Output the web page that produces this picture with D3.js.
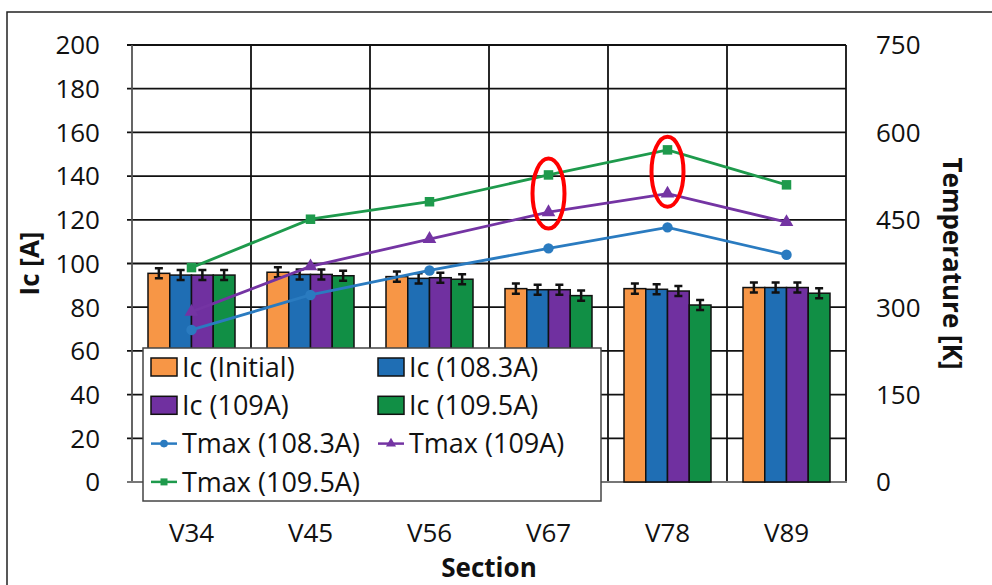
<!DOCTYPE html>
<head>
  <meta charset="utf-8">
  <script src="https://d3js.org/d3.v7.min.js"></script>
  <style>
    body { margin:0; background:#fff; }
    text { font-family: "Open Sans", Lato, sans-serif; fill:#111; }
  </style>
</head>

<body>
  <script>
    var width = 992;
    var height = 585;

    // data
    var sections = ["V34", "V45", "V56", "V67", "V78", "V89"];
    var icInitial = [95.5, 96, 94, 88.5, 88.5, 89];
    var ic1083 = [94.7, 95, 93.2, 88, 88.2, 89];
    var ic109 = [94.7, 95, 93.5, 88, 87.4, 89];
    var ic1095 = [94.7, 94.4, 92.8, 85.3, 81, 86.4];
    var icError = 2.3;
    var tmax1083 = [261, 321, 363, 401, 437, 390];
    var tmax109 = [292, 370, 417, 463, 495, 446];
    var tmax1095 = [368, 451, 481, 527, 570, 510];
    var leftTicks = [0, 20, 40, 60, 80, 100, 120, 140, 160, 180, 200];
    var rightTicks = [0, 150, 300, 450, 600, 750];
    var circled = ["V67", "V78"];

    var barSeries = [
      {name: "Ic (Initial)", values: icInitial, color: "#F79646"},
      {name: "Ic (108.3A)", values: ic1083, color: "#1F6EB4"},
      {name: "Ic (109A)", values: ic109, color: "#7030A0"},
      {name: "Ic (109.5A)", values: ic1095, color: "#118F45"}
    ];
    var lineSeries = [
      {name: "Tmax (108.3A)", values: tmax1083, color: "#2A7BC0", mark: "circle"},
      {name: "Tmax (109A)", values: tmax109, color: "#7434A3", mark: "triangle"},
      {name: "Tmax (109.5A)", values: tmax1095, color: "#1E9A4C", mark: "square"}
    ];

    // plot area edges (window.top is read-only, so no plain "top")
    var pL = 132, pR = 846, pT = 45, pB = 482;
    var fs = "26px";

    var svg = d3.select("body").append("svg")
      .attr("width", width)
      .attr("height", height);

    // outer frame (only left and top show in the picture)
    svg.append("path").attr("d", "M7,585V12H992")
      .attr("fill", "none").attr("stroke", "#222").attr("stroke-width", 1.5);

    var x = d3.scaleBand().domain(sections).range([pL, pR]).padding(0);
    var xInner = d3.scaleBand().domain(barSeries.map(function(s) { return s.name; }))
      .range([16, x.bandwidth() - 16]).padding(0);
    var y = d3.scaleLinear().domain([0, 200]).range([pB, pT]);
    var y2 = d3.scaleLinear().domain([0, 750]).range([pB, pT]);

    // grid
    var grid = svg.append("g");
    grid.selectAll("line.h").data(leftTicks.filter(function(d) { return d > 0; }))
      .enter().append("line")
      .attr("x1", pL - 5).attr("x2", pR)
      .attr("y1", function(d) { return y(d); }).attr("y2", function(d) { return y(d); })
      .attr("stroke", "#111").attr("stroke-width", 1.8);
    grid.selectAll("line.v").data(sections.concat(["end"]))
      .enter().append("line")
      .attr("x1", function(d, i) { return pL + i * x.bandwidth(); })
      .attr("x2", function(d, i) { return pL + i * x.bandwidth(); })
      .attr("y1", pT).attr("y2", pB)
      .attr("stroke", function(d, i) { return i == 0 ? "#555" : "#111"; })
      .attr("stroke-width", 1.8);
    grid.append("line").attr("x1", pL - 5).attr("x2", pR + 1)
      .attr("y1", pB).attr("y2", pB)
      .attr("stroke", "#777").attr("stroke-width", 2);

    // bars
    var groups = svg.selectAll("g.sec").data(sections).enter().append("g")
      .attr("transform", function(d) { return "translate(" + x(d) + ",0)"; });
    groups.each(function(sec, i) {
      var g = d3.select(this);
      barSeries.forEach(function(s) {
        var v = s.values[i];
        g.append("rect")
          .attr("x", xInner(s.name)).attr("width", xInner.bandwidth())
          .attr("y", y(v)).attr("height", y(0) - y(v))
          .attr("fill", s.color).attr("stroke", "#111").attr("stroke-width", 1.5);
        var cx = xInner(s.name) + xInner.bandwidth() / 2;
        g.append("path")
          .attr("d", "M" + cx + "," + y(v - icError) + "V" + y(v + icError)
            + "M" + (cx - 4) + "," + y(v - icError) + "h8"
            + "M" + (cx - 4) + "," + y(v + icError) + "h8")
          .attr("stroke", "#111").attr("stroke-width", 2.5).attr("fill", "none");
      });
    });

    function marker(sel, kind, color, size) {
      if (kind == "circle") {
        sel.append("circle").attr("r", size * 0.55).attr("fill", color);
      } else if (kind == "triangle") {
        sel.append("path").attr("d", d3.symbol().type(d3.symbolTriangle).size(size * size * 0.9))
          .attr("fill", color);
      } else {
        sel.append("rect").attr("x", -size / 2).attr("y", -size / 2)
          .attr("width", size).attr("height", size).attr("fill", color);
      }
    }

    // temperature lines
    var cxOf = function(d, i) { return x(sections[i]) + x.bandwidth() / 2; };
    var line = d3.line().x(cxOf).y(function(d) { return y2(d); });
    lineSeries.forEach(function(s) {
      svg.append("path").attr("d", line(s.values))
        .attr("fill", "none").attr("stroke", s.color).attr("stroke-width", 2.8);
      s.values.forEach(function(v, i) {
        var m = svg.append("g").attr("transform", "translate(" + cxOf(v, i) + "," + y2(v) + ")");
        marker(m, s.mark, s.color, 9.5);
      });
    });

    // red circles on the hottest points
    circled.forEach(function(sec) {
      var i = sections.indexOf(sec);
      var mid = (tmax1095[i] + tmax109[i]) / 2;
      svg.append("ellipse")
        .attr("cx", x(sec) + x.bandwidth() / 2).attr("cy", y2(mid))
        .attr("rx", 16).attr("ry", 35)
        .attr("fill", "none").attr("stroke", "#F00").attr("stroke-width", 4);
    });

    // axes text
    svg.selectAll("text.yl").data(leftTicks).enter().append("text")
      .attr("x", 100).attr("y", function(d) { return y(d); }).attr("dy", "0.36em")
      .attr("text-anchor", "end").style("font-size", fs).text(function(d) { return d; });
    svg.selectAll("text.yr").data(rightTicks).enter().append("text")
      .attr("x", 876).attr("y", function(d) { return y2(d); }).attr("dy", "0.36em")
      .style("font-size", fs).text(function(d) { return d; });
    svg.selectAll("text.xl").data(sections).enter().append("text")
      .attr("x", function(d) { return x(d) + x.bandwidth() / 2; }).attr("y", 533).attr("dy", "0.36em")
      .attr("text-anchor", "middle").style("font-size", fs).text(function(d) { return d; });
    svg.append("text").attr("x", (pL + pR) / 2).attr("y", 568).attr("dy", "0.36em")
      .attr("text-anchor", "middle").style("font-size", fs).style("font-weight", "bold")
      .text("Section");
    svg.append("text").attr("transform", "translate(30," + (pT + pB) / 2 + ")rotate(-90)")
      .attr("dy", "0.36em").attr("text-anchor", "middle")
      .style("font-size", fs).style("font-weight", "bold").text("Ic [A]");
    svg.append("text").attr("transform", "translate(952," + (pT + pB) / 2 + ")rotate(90)")
      .attr("dy", "0.36em").attr("text-anchor", "middle")
      .style("font-size", fs).style("font-weight", "bold").text("Temperature [K]");

    // legend
    var legend = svg.append("g").attr("transform", "translate(143,348)");
    legend.append("rect").attr("width", 458).attr("height", 153)
      .attr("fill", "#fff").attr("stroke", "#444").attr("stroke-width", 1.5);
    var items = barSeries.concat(lineSeries);
    items.forEach(function(s, k) {
      var col = k % 2, row = Math.floor(k / 2);
      var li = legend.append("g")
        .attr("transform", "translate(" + (8 + col * 227) + "," + (19 + row * 38.3) + ")");
      if (s.mark) {
        li.append("line").attr("x1", 0).attr("x2", 26).attr("stroke", s.color).attr("stroke-width", 2.5);
        var m = li.append("g").attr("transform", "translate(13,0)");
        marker(m, s.mark, s.color, 7);
      } else {
        li.append("rect").attr("x", 0).attr("y", -9).attr("width", 26).attr("height", 18)
          .attr("fill", s.color).attr("stroke", "#111").attr("stroke-width", 1.5);
      }
      li.append("text").attr("x", 31).attr("dy", "0.36em")
        .style("font-size", "27px").text(s.name);
    });
  </script>
</body>

</html>
